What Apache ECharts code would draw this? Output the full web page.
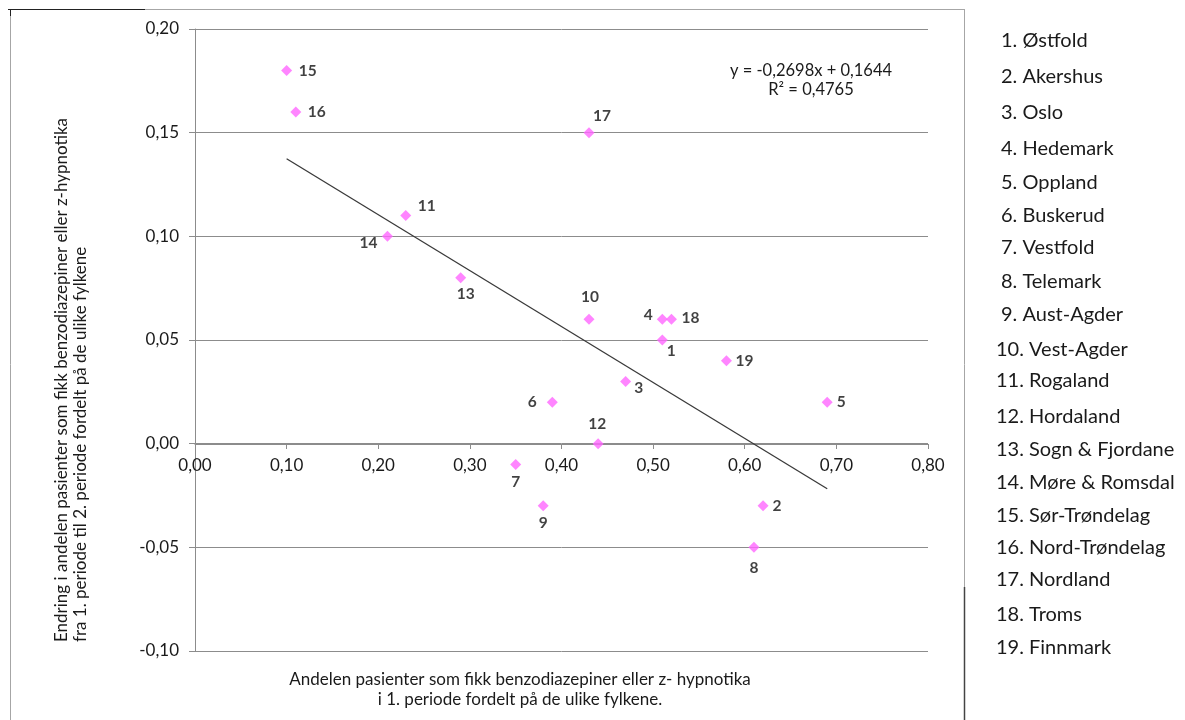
<!DOCTYPE html>
<html>
<head>
<meta charset="utf-8">
<script src="https://cdn.jsdelivr.net/npm/echarts@6/dist/echarts.min.js"></script>
<style>
html,body{margin:0;padding:0;background:#fff;}
#chart{width:1185px;height:720px;}
</style>
</head>
<body>
<div id="chart"></div>
<script>
// ---- data ----
var countyIds = ['1','2','3','4','5','6','7','8','9','10','11','12','13','14','15','16','17','18','19'];
var countyNames = ['Østfold','Akershus','Oslo','Hedemark','Oppland','Buskerud','Vestfold','Telemark','Aust-Agder','Vest-Agder','Rogaland','Hordaland','Sogn & Fjordane','Møre & Romsdal','Sør-Trøndelag','Nord-Trøndelag','Nordland','Troms','Finnmark'];
var shareFirstPeriod = [0.51,0.62,0.47,0.51,0.69,0.39,0.35,0.61,0.38,0.43,0.23,0.44,0.29,0.21,0.10,0.11,0.43,0.52,0.58];
var changeToSecond = [0.05,-0.03,0.03,0.06,0.02,0.02,-0.01,-0.05,-0.03,0.06,0.11,0.00,0.08,0.10,0.18,0.16,0.15,0.06,0.04];
var trendSlope = -0.2698;
var trendIntercept = 0.1644;
var rSquared = '0,4765';
var xTicks = [0,0.1,0.2,0.3,0.4,0.5,0.6,0.7,0.8];
var yTicks = [-0.10,-0.05,0,0.05,0.10,0.15,0.20];

// ---- label layout (presentation only) ----
var labelOffsets = [[9,11],[14,0],[13,7],[-14,-4],[14,0],[-20,0],[0,18],[0,21],[0,17],[1,-22],[21,-10],[-1,-20],[5,16],[-19,7],[21,1],[21,0],[13,-17],[19,-1],[18,0]];

function fmt(v){ return v.toFixed(2).replace('.', ','); }
function fmt4(v){ return v.toFixed(4).replace('.', ','); }

var scatterData = shareFirstPeriod.map(function(x,i){
  return {
    value:[x, changeToSecond[i]],
    label:{show:true, formatter:countyIds[i], position:'inside', offset:labelOffsets[i]}
  };
});
var xMinData = Math.min.apply(null, shareFirstPeriod);
var xMaxData = Math.max.apply(null, shareFirstPeriod);
var trendData = [[xMinData, trendSlope*xMinData+trendIntercept],[xMaxData, trendSlope*xMaxData+trendIntercept]];

var FONT = 'Lato, "Open Sans", sans-serif';
var legendY = [41,77,113,149,183,216,248,282,315,350,381,417,450,483,516,548,580,615,648];
var graphics = [];
// frame
graphics.push({type:'line', shape:{x1:8,y1:9.5,x2:964,y2:9.5}, style:{stroke:'#a6a6a6', lineWidth:1}});
graphics.push({type:'line', shape:{x1:8,y1:9.5,x2:145,y2:9.5}, style:{stroke:'#222', lineWidth:1}});
graphics.push({type:'line', shape:{x1:10.5,y1:9,x2:10.5,y2:720}, style:{stroke:'#a6a6a6', lineWidth:1}});
graphics.push({type:'line', shape:{x1:10.5,y1:9,x2:10.5,y2:16}, style:{stroke:'#222', lineWidth:1}});
graphics.push({type:'line', shape:{x1:964.5,y1:9,x2:964.5,y2:720}, style:{stroke:'#a6a6a6', lineWidth:1}});
graphics.push({type:'line', shape:{x1:964.5,y1:587,x2:964.5,y2:720}, style:{stroke:'#444', lineWidth:1.5}});
// legend list
countyNames.forEach(function(n,i){
  graphics.push({type:'text', x:(i<9?1001:996), y:legendY[i], style:{text:countyIds[i]+'. '+n, font:'20px '+FONT, fill:'#1a1a1a', textAlign:'left', textVerticalAlign:'middle'}});
});
// axis titles
graphics.push({type:'text', x:71, y:642, rotation:Math.PI/2, style:{text:'Endring i andelen pasienter som fikk benzodiazepiner eller z-hypnotika\nfra 1. periode til 2. periode fordelt på de ulike fylkene', font:'17px '+FONT, lineHeight:19, fill:'#1a1a1a', textAlign:'left', textVerticalAlign:'middle'}});
graphics.push({type:'text', x:520, y:690, style:{text:'Andelen pasienter som fikk benzodiazepiner eller z- hypnotika\ni 1. periode fordelt på de ulike fylkene.', font:'17px '+FONT, lineHeight:20, fill:'#1a1a1a', textAlign:'center', textVerticalAlign:'middle'}});
// equation
graphics.push({type:'text', x:811, y:80, style:{text:'y = '+fmt4(trendSlope)+'x + '+fmt4(trendIntercept)+'\nR² = '+rSquared, font:'16.5px '+FONT, lineHeight:19, fill:'#1a1a1a', textAlign:'center', textVerticalAlign:'middle'}});

var chart = echarts.init(document.getElementById('chart'), null, {renderer:'canvas'});
chart.setOption({
  animation:false,
  backgroundColor:'#fff',
  grid:{left:195, right:257, top:29, bottom:69, containLabel:false},
  xAxis:{
    type:'value', min:xTicks[0], max:xTicks[xTicks.length-1], interval:0.1,
    offset:-207,
    axisLine:{show:true, onZero:false, lineStyle:{color:'#8c8c8c', width:1}},
    axisTick:{show:true, inside:false, length:5, lineStyle:{color:'#8c8c8c'}},
    splitLine:{show:false},
    axisLabel:{formatter:fmt, margin:13, color:'#1a1a1a', fontSize:17, fontFamily:FONT}
  },
  yAxis:{
    type:'value', min:yTicks[0], max:yTicks[yTicks.length-1], interval:0.05,
    axisLine:{show:true, onZero:false, lineStyle:{color:'#8c8c8c', width:1}},
    axisTick:{show:true, inside:false, length:6, lineStyle:{color:'#8c8c8c'}},
    splitLine:{show:true, lineStyle:{color:'#8c8c8c', width:1}},
    axisLabel:{formatter:fmt, margin:16, color:'#1a1a1a', fontSize:17, fontFamily:FONT}
  },
  series:[
    {type:'line', data:trendData, symbol:'none', silent:true, z:1,
     lineStyle:{color:'#3a3a3a', width:1.3}},
    {type:'scatter', data:scatterData, symbol:'diamond', symbolSize:11, z:3,
     itemStyle:{color:'#ff66ff'},
     label:{show:true, color:'#111', fontWeight:'bold', fontSize:15.5, fontFamily:FONT, align:'center', verticalAlign:'middle'}}
  ],
  graphic:graphics
});
</script>
</body>
</html>
